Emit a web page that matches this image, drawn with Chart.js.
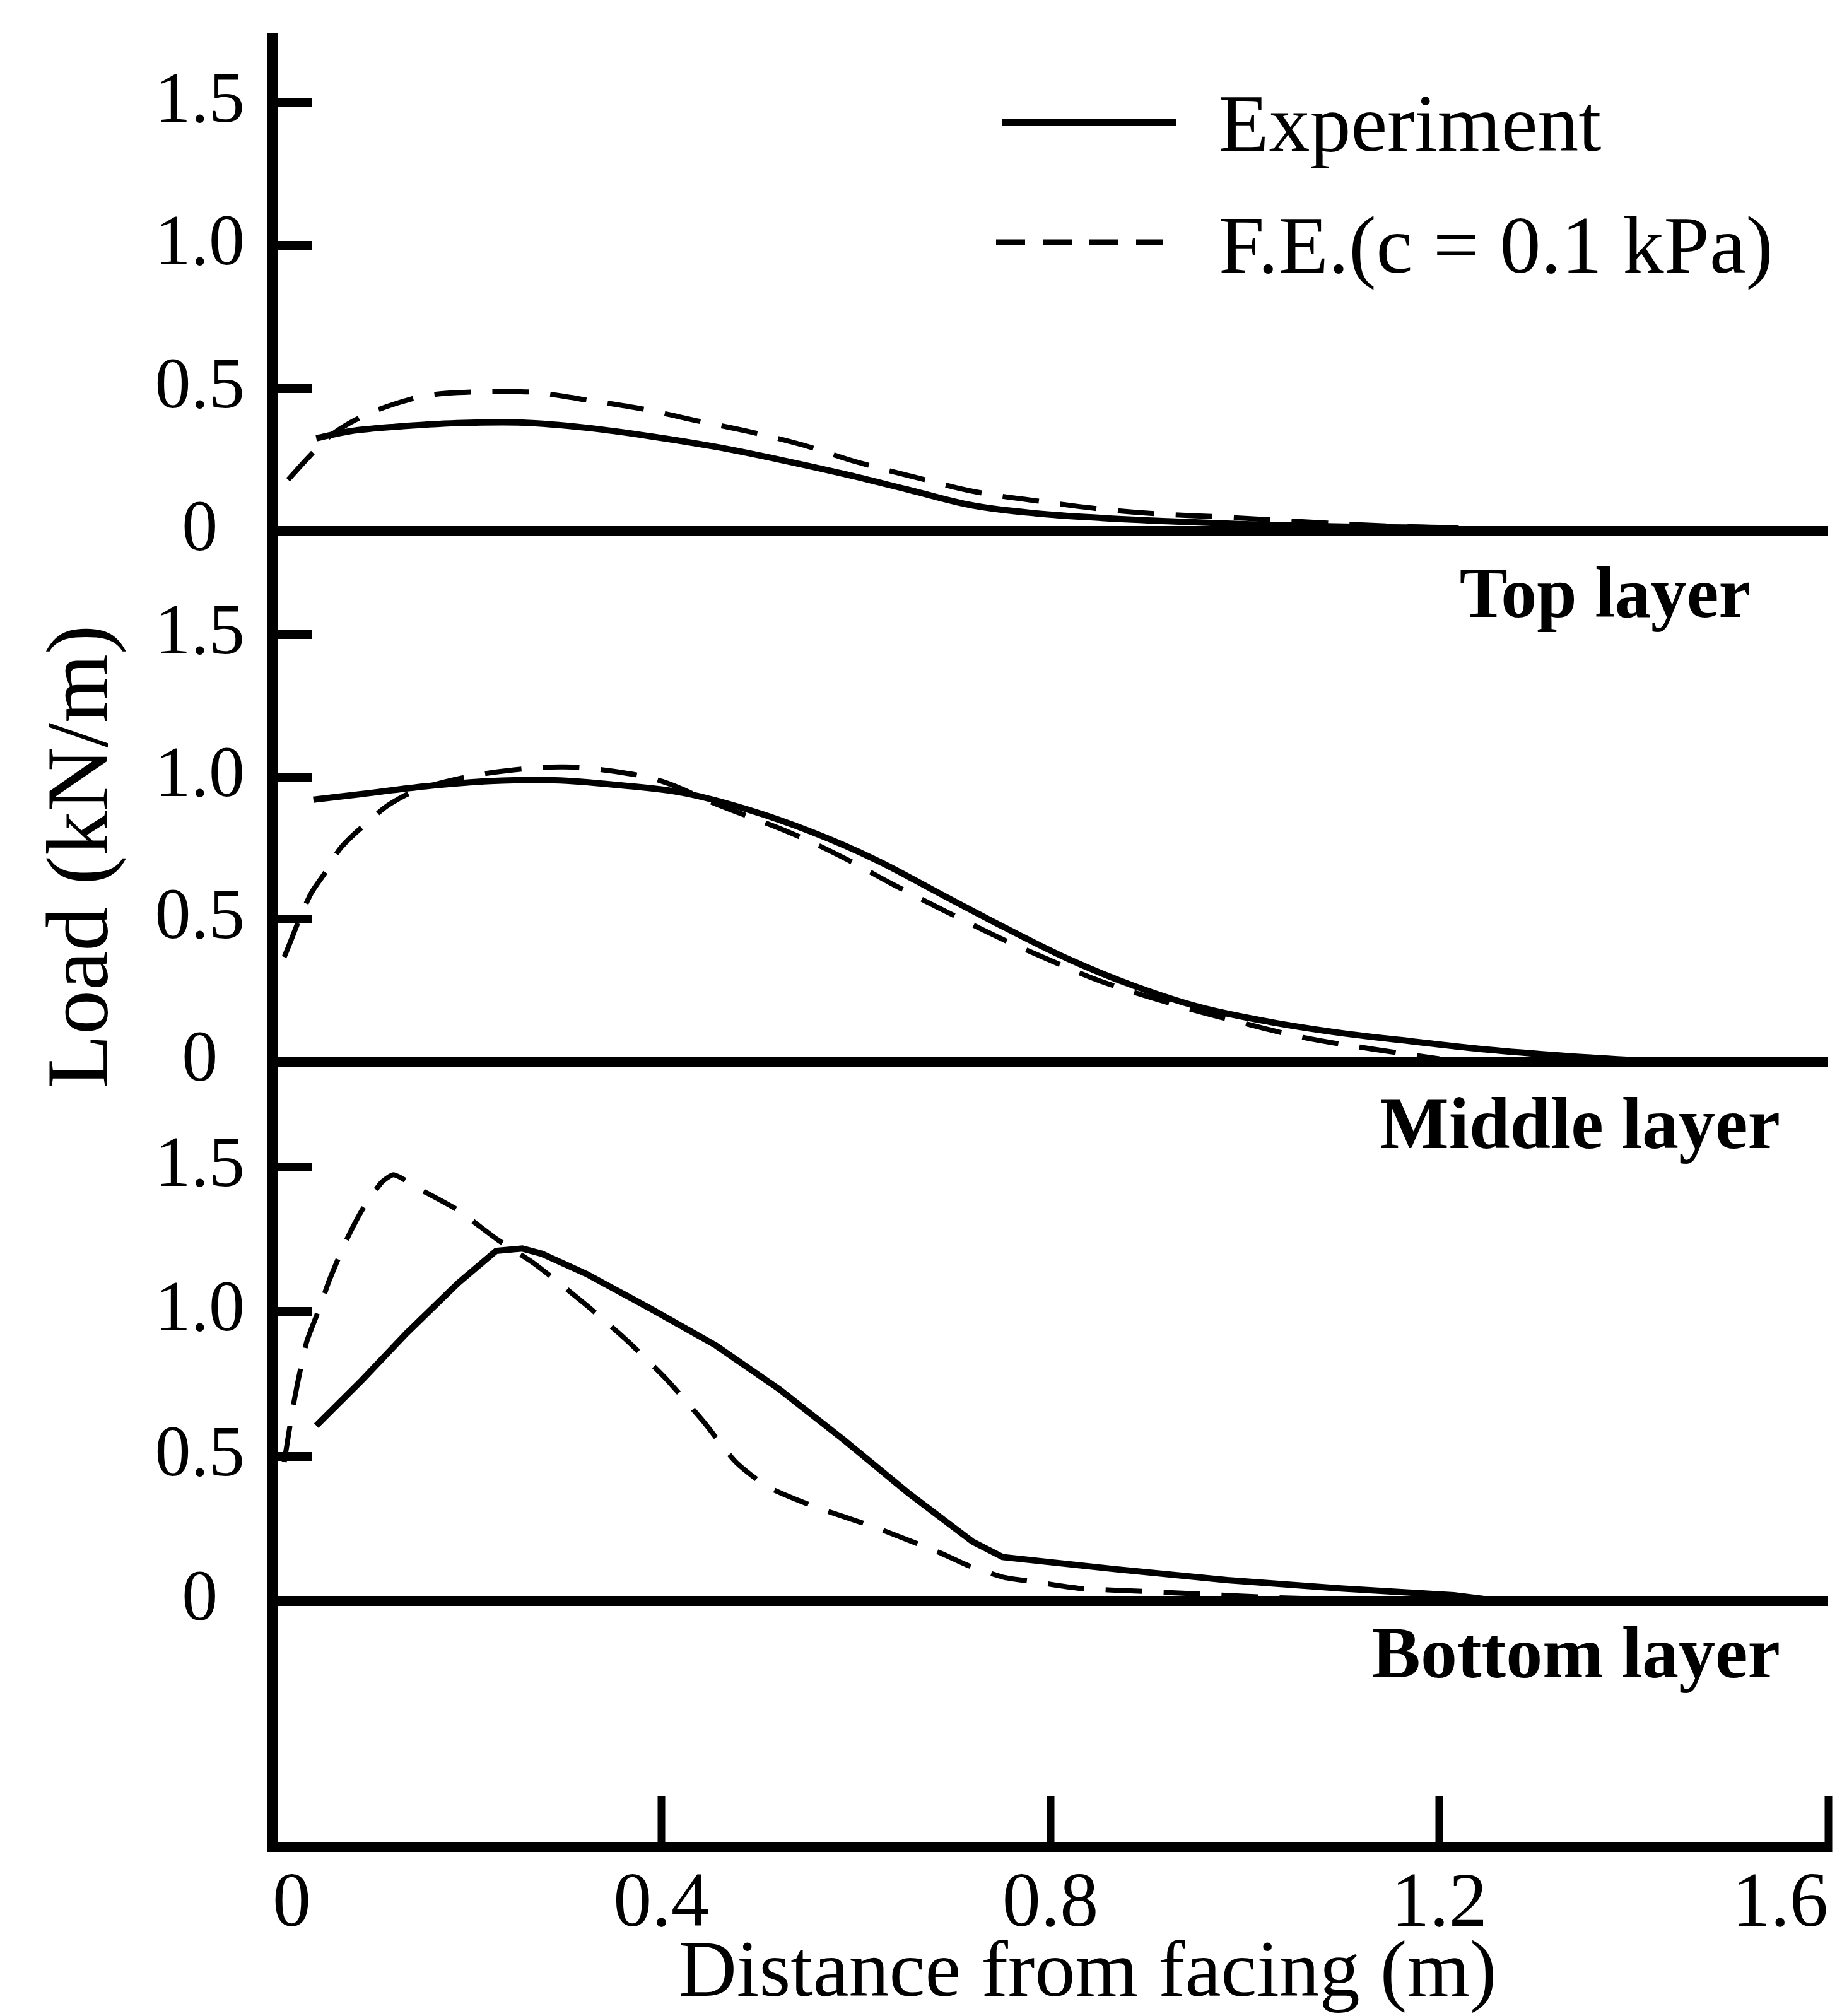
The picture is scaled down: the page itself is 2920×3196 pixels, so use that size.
<!DOCTYPE html>
<html>
<head>
<meta charset="UTF-8">
<title>Load along reinforcement layers</title>
<script src="https://cdn.jsdelivr.net/npm/chart.js@4.4.1/dist/chart.umd.min.js"></script>
<style>
  html, body { margin: 0; padding: 0; background: #fff; }
  canvas { display: block; }
</style>
</head>
<body>
<canvas id="loadChart" width="2920" height="3196"></canvas>
<script>
// distance from facing (m) and tensile load (kN/m), one pair of arrays per curve
var topExpDist = [0.045, 0.08, 0.125, 0.19, 0.257, 0.323, 0.389, 0.456, 0.522, 0.588, 0.654, 0.72, 0.786, 0.853, 0.92, 0.986, 1.05, 1.12, 1.18, 1.22];
var topExpLoad = [0.325, 0.35, 0.365, 0.378, 0.38, 0.362, 0.332, 0.295, 0.25, 0.2, 0.145, 0.09, 0.062, 0.046, 0.035, 0.026, 0.02, 0.015, 0.012, 0.01];
var topFeDist = [0.016, 0.038, 0.058, 0.08, 0.105, 0.13, 0.154, 0.18, 0.211, 0.24, 0.27, 0.3, 0.323, 0.38, 0.44, 0.492, 0.545, 0.6, 0.665, 0.724, 0.79, 0.853, 0.912, 0.979, 1.05, 1.12, 1.2, 1.22];
var topFeLoad = [0.18, 0.262, 0.33, 0.38, 0.42, 0.45, 0.472, 0.483, 0.488, 0.489, 0.486, 0.472, 0.459, 0.428, 0.384, 0.347, 0.302, 0.243, 0.185, 0.137, 0.104, 0.077, 0.06, 0.049, 0.035, 0.022, 0.012, 0.01];

var midExpDist = [0.042, 0.092, 0.158, 0.224, 0.29, 0.356, 0.422, 0.489, 0.555, 0.621, 0.687, 0.753, 0.82, 0.886, 0.953, 1.025, 1.1, 1.17, 1.25, 1.33, 1.4];
var midExpLoad = [0.92, 0.94, 0.967, 0.985, 0.988, 0.971, 0.944, 0.885, 0.806, 0.708, 0.589, 0.471, 0.358, 0.266, 0.192, 0.14, 0.1, 0.072, 0.042, 0.02, 0.005];
var midFeDist = [0.012, 0.038, 0.055, 0.071, 0.101, 0.121, 0.15, 0.2, 0.25, 0.3, 0.35, 0.4, 0.456, 0.535, 0.588, 0.635, 0.684, 0.747, 0.797, 0.853, 0.933, 0.999, 1.06, 1.13, 1.2];
var midFeLoad = [0.367, 0.58, 0.668, 0.754, 0.85, 0.905, 0.955, 1.0, 1.025, 1.035, 1.02, 0.985, 0.905, 0.8, 0.715, 0.628, 0.542, 0.436, 0.36, 0.281, 0.195, 0.135, 0.085, 0.045, 0.01];

var botExpDist = [0.045, 0.092, 0.138, 0.191, 0.23, 0.257, 0.277, 0.323, 0.389, 0.456, 0.522, 0.588, 0.654, 0.72, 0.751, 0.867, 0.982, 1.099, 1.215, 1.25];
var botExpLoad = [0.606, 0.763, 0.926, 1.099, 1.21, 1.218, 1.2, 1.13, 1.01, 0.883, 0.73, 0.556, 0.373, 0.205, 0.152, 0.11, 0.072, 0.043, 0.02, 0.005];
var botFeDist = [0.012, 0.022, 0.035, 0.049, 0.058, 0.075, 0.092, 0.112, 0.125, 0.151, 0.191, 0.23, 0.27, 0.323, 0.363, 0.403, 0.443, 0.476, 0.509, 0.555, 0.621, 0.687, 0.716, 0.753, 0.78, 0.829, 0.896, 0.954, 1.03, 1.1];
var botFeLoad = [0.48, 0.687, 0.894, 1.018, 1.105, 1.24, 1.35, 1.446, 1.473, 1.424, 1.35, 1.252, 1.164, 1.022, 0.905, 0.774, 0.621, 0.482, 0.395, 0.329, 0.253, 0.166, 0.122, 0.081, 0.068, 0.044, 0.033, 0.024, 0.012, 0.005];

var xTickValues = [0, 0.4, 0.8, 1.2, 1.6];
var yTickValues = [0, 0.5, 1.0, 1.5];
var seriesNames = ['Experiment', 'F.E.(c = 0.1 kPa)'];
var layerNames = ['Top layer', 'Middle layer', 'Bottom layer'];

var SERIF = '"Liberation Serif", "DejaVu Serif", serif';
var FE_DASH = [58, 34];

Chart.defaults.font.family = SERIF;
Chart.defaults.color = '#000';

function pairs(xs, ys) {
  return xs.map(function (x, i) { return { x: x, y: ys[i] }; });
}

function curve(label, xs, ys, axis, dashed, tension) {
  return {
    label: label,
    data: pairs(xs, ys),
    yAxisID: axis,
    borderColor: '#000',
    borderWidth: dashed ? 8 : 10,
    borderDash: dashed ? FE_DASH : [],
    pointRadius: 0,
    fill: false,
    tension: tension
  };
}

// one y axis per layer, stacked on the left; only the zero line is drawn across
function layerAxis(min, max, weight, stackWeight) {
  return {
    type: 'linear',
    position: 'left',
    stack: 'layers',
    stackWeight: stackWeight,
    weight: weight,
    min: min,
    max: max,
    bounds: 'data',
    afterBuildTicks: function (s) {
      s.ticks = yTickValues.map(function (v) { return { value: v }; });
    },
    afterFit: function (s) {
      s.width = 432;
      s.paddingTop = 0;
      s.paddingBottom = 0;
    },
    border: { color: '#000', width: 16 },
    grid: {
      color: function (c) { return c.tick && c.tick.value === 0 ? '#000' : 'rgba(0,0,0,0)'; },
      lineWidth: function (c) { return c.tick && c.tick.value === 0 ? 16 : 0; },
      tickColor: '#000',
      tickWidth: 14,
      tickLength: -63,
      drawTicks: true
    },
    ticks: {
      color: '#000',
      font: { size: 114 },
      padding: 107,
      crossAlign: 'center',
      autoSkip: false,
      callback: function (v) { return v === 0 ? '0' : v.toFixed(1); }
    }
  };
}

// free text: legend, layer names and axis titles
var annotations = {
  id: 'annotations',
  afterDraw: function (chart) {
    var ctx = chart.ctx;
    var sc = chart.scales;
    ctx.save();
    ctx.fillStyle = '#000';
    ctx.strokeStyle = '#000';
    ctx.textBaseline = 'alphabetic';

    // legend
    ctx.lineCap = 'butt';
    ctx.lineWidth = 10;
    ctx.setLineDash([]);
    ctx.beginPath(); ctx.moveTo(1589, 194); ctx.lineTo(1865, 194); ctx.stroke();
    ctx.lineWidth = 9;
    ctx.setLineDash([46, 28]);
    ctx.beginPath(); ctx.moveTo(1579, 384); ctx.lineTo(1844, 384); ctx.stroke();
    ctx.setLineDash([]);
    ctx.font = '130px ' + SERIF;
    ctx.textAlign = 'left';
    ctx.fillText(seriesNames[0], 1932, 239);
    ctx.fillText(seriesNames[1], 1932, 432);

    // layer names under each zero line
    ctx.textAlign = 'right';
    ctx.font = 'bold 114px ' + SERIF;
    ctx.fillText(layerNames[0], 2775, sc.yTop.getPixelForValue(0) + 136);
    ctx.font = 'bold 116px ' + SERIF;
    ctx.fillText(layerNames[1], 2822, sc.yMid.getPixelForValue(0) + 137);
    ctx.fillText(layerNames[2], 2822, sc.yBot.getPixelForValue(0) + 121);

    // axis titles
    ctx.textAlign = 'center';
    ctx.font = '128px ' + SERIF;
    ctx.fillText('Distance from facing (m)', 1724, 3164);
    ctx.translate(170, 1358);
    ctx.rotate(-Math.PI / 2);
    ctx.font = '140px ' + SERIF;
    ctx.fillText('Load (kN/m)', 0, 0);
    ctx.restore();
  }
};

new Chart(document.getElementById('loadChart'), {
  type: 'line',
  data: {
    datasets: [
      curve(seriesNames[0], topExpDist, topExpLoad, 'yTop', false, 0.35),
      curve(seriesNames[1], topFeDist, topFeLoad, 'yTop', true, 0.35),
      curve(seriesNames[0], midExpDist, midExpLoad, 'yMid', false, 0.35),
      curve(seriesNames[1], midFeDist, midFeLoad, 'yMid', true, 0.35),
      curve(seriesNames[0], botExpDist, botExpLoad, 'yBot', false, 0),
      curve(seriesNames[1], botFeDist, botFeLoad, 'yBot', true, 0.2)
    ]
  },
  options: {
    responsive: false,
    animation: false,
    events: [],
    layout: { padding: { top: 61, right: 22, bottom: 0, left: 0 } },
    plugins: { legend: { display: false }, tooltip: { enabled: false } },
    scales: {
      x: {
        type: 'linear',
        position: 'bottom',
        min: 0,
        max: 1.6,
        bounds: 'data',
        afterBuildTicks: function (s) {
          s.ticks = xTickValues.map(function (v) { return { value: v }; });
        },
        afterFit: function (s) {
          s.height = 268;
          s.paddingLeft = 0;
          s.paddingRight = 0;
        },
        border: { color: '#000', width: 16 },
        grid: {
          drawOnChartArea: false,
          drawTicks: true,
          tickLength: -80,
          tickColor: '#000',
          tickWidth: 12
        },
        ticks: {
          color: '#000',
          font: { size: 122 },
          padding: 100,
          align: 'inner',
          autoSkip: false,
          maxRotation: 0,
          callback: function (v) { return v === 0 ? '0' : v.toFixed(1); }
        }
      },
      yBot: layerAxis(-0.85, 1.864, 1, 1245),
      yMid: layerAxis(0, 1.863, 2, 841),
      yTop: layerAxis(0, 1.725, 3, 781)
    }
  },
  plugins: [annotations]
});
</script>
</body>
</html>
